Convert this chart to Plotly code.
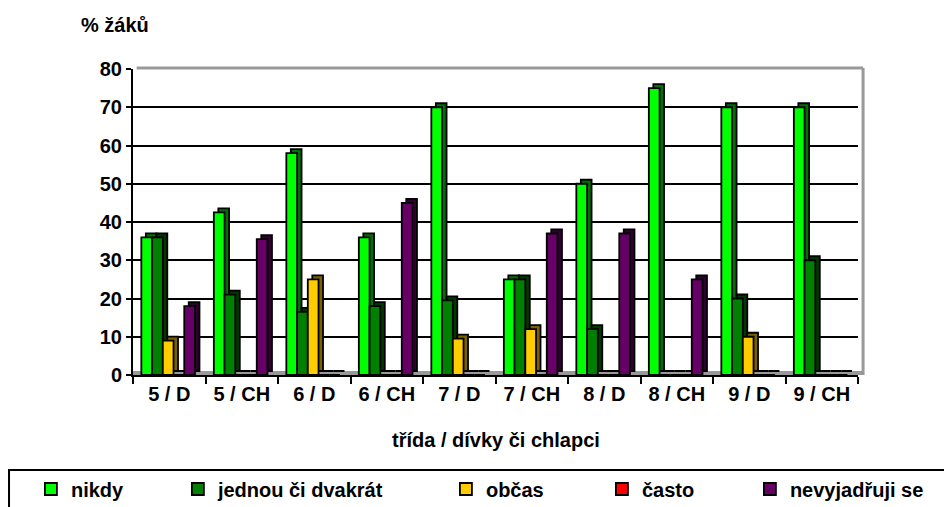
import plotly.graph_objects as go

categories = ["5 / D", "5 / CH", "6 / D", "6 / CH", "7 / D", "7 / CH", "8 / D", "8 / CH", "9 / D", "9 / CH"]
nikdy = [36, 42.5, 58, 36, 70, 25, 50, 75, 70, 70]
jednou = [36, 21, 16.5, 18, 19.5, 25, 12, 0, 20, 30]
obcas = [9, 0, 25, 0, 9.5, 12, 0, 0, 10, 0]
casto = [0, 0, 0, 0, 0, 0, 0, 0, 0, 0]
nevyjadruji = [18, 35.5, 0, 45, 0, 37, 37, 25, 0, 0]
series_names = ["nikdy", "jednou či dvakrát", "občas", "často", "nevyjadřuji se"]
y_ticks = [0, 10, 20, 30, 40, 50, 60, 70, 80]

series_values = [nikdy, jednou, obcas, casto, nevyjadruji]
colors = ["#00FF00", "#008000", "#FFCC00", "#FF0000", "#660066"]
side_colors = ["#007000", "#003800", "#7A6000", "#800000", "#300030"]
FONT = "Arial, Liberation Sans, sans-serif"

# pseudo-3D styling
bar_w = 0.148
first_off = -0.385
depth_x = 0.062
depth_y = 1.05

fig = go.Figure()
# back (depth) faces first
for i, (vals, sc) in enumerate(zip(series_values, side_colors)):
    fig.add_trace(go.Bar(
        x=categories, y=vals, base=depth_y, width=bar_w, offset=first_off + i * bar_w + depth_x,
        marker=dict(color=sc, line=dict(color="black", width=1.8)),
        showlegend=False, hoverinfo="skip",
    ))
# front faces
legend_ids = ["legend", "legend2", "legend3", "legend4", "legend5"]
for i, (name, vals, col) in enumerate(zip(series_names, series_values, colors)):
    fig.add_trace(go.Bar(
        x=categories, y=vals, name=name, width=bar_w, offset=first_off + i * bar_w,
        marker=dict(color=col, line=dict(color="black", width=1.8)),
        legend=legend_ids[i],
    ))

leg_font = dict(family=FONT, size=20, color="black", weight="bold")
leg_x = [-0.1408, 0.0619, 0.4316, 0.6468, 0.8509]
leg_common = dict(orientation="h", y=-0.3725, xanchor="left", yanchor="middle",
                  font=leg_font, bgcolor="rgba(0,0,0,0)", borderwidth=0)

fig.update_layout(
    width=952, height=507,
    margin=dict(l=125, r=102, t=61, b=140, autoexpand=False),
    paper_bgcolor="white", plot_bgcolor="white",
    barmode="overlay",
    font=dict(family=FONT, size=20, color="black", weight="bold"),
    showlegend=True,
    legend=dict(x=leg_x[0], **leg_common),
    legend2=dict(x=leg_x[1], **leg_common),
    legend3=dict(x=leg_x[2], **leg_common),
    legend4=dict(x=leg_x[3], **leg_common),
    legend5=dict(x=leg_x[4], **leg_common),
    xaxis=dict(
        showline=True, linecolor="black", linewidth=2,
        ticks="outside", tickson="boundaries", ticklen=7, tickcolor="black", tickwidth=2,
        tickfont=dict(family=FONT, size=20, color="black", weight="bold"),
        showgrid=False,
    ),
    yaxis=dict(
        range=[0, 80], tickvals=y_ticks, showgrid=True, gridcolor="black", gridwidth=2,
        showline=True, linecolor="black", linewidth=2,
        ticks="outside", ticklen=5, tickcolor="black", tickwidth=2,
        tickfont=dict(family=FONT, size=20, color="black", weight="bold"),
        zeroline=False,
    ),
    shapes=[
        # floor
        dict(type="rect", xref="paper", yref="y", x0=0, x1=1.007, y0=0, y1=depth_y,
             line=dict(width=0), fillcolor="#999999", layer="below"),
        # back wall top and right edge
        dict(type="line", xref="paper", yref="paper", x0=0.005, x1=1.007, y0=1.003, y1=1.003,
             line=dict(color="#999999", width=3)),
        dict(type="line", xref="paper", yref="paper", x0=1.007, x1=1.007, y0=0.0, y1=1.003,
             line=dict(color="#999999", width=3)),
        # legend frame
        dict(type="rect", xref="paper", yref="paper", x0=-0.171, x1=1.2, y0=-0.3105, y1=-0.6,
             line=dict(color="black", width=2), fillcolor="rgba(0,0,0,0)"),
    ],
    annotations=[
        dict(text="% žáků", xref="paper", yref="paper", x=-0.0248, y=1.1438, xanchor="center", yanchor="middle",
             showarrow=False, font=dict(family=FONT, size=20, color="black", weight="bold")),
        dict(text="třída / dívky či chlapci", xref="paper", yref="paper", x=0.5, y=-0.212,
             xanchor="center", yanchor="middle",
             showarrow=False, font=dict(family=FONT, size=20, color="black", weight="bold")),
    ],
)

fig.write_html("out.html")
